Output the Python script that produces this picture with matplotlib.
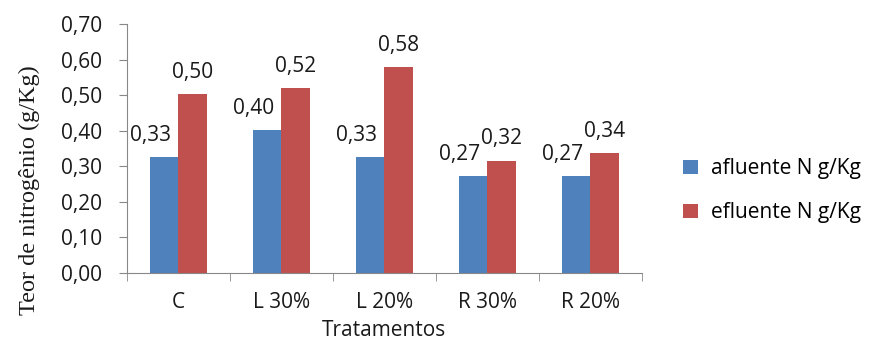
import numpy as np
import matplotlib.pyplot as plt

# data
categories = ['C', 'L 30%', 'L 20%', 'R 30%', 'R 20%']
afluente = [0.327, 0.401, 0.327, 0.273, 0.273]
efluente = [0.503, 0.519, 0.578, 0.316, 0.336]
series_names = ['afluente N g/Kg', 'efluente N g/Kg']
yticks = [0.0, 0.1, 0.2, 0.3, 0.4, 0.5, 0.6, 0.7]

blue = '#4F81BD'
red = '#C0504D'
axis_grey = '#888888'
txt = '#1a1a1a'
font = 'Open Sans'
fs = 15

fig = plt.figure(figsize=(8.8, 3.42), dpi=100)
ax = fig.add_axes([0.1443, 0.2018, 0.5852, 0.728])

x = np.arange(len(categories))
w = 0.28
b1 = ax.bar(x - w / 2, afluente, w, color=blue, label=series_names[0])
b2 = ax.bar(x + w / 2, efluente, w, color=red, label=series_names[1])

# value labels (comma decimals); blue ones nudged left like the original
for bars, dx in ((b1, -10), (b2, 0)):
    for rect in bars:
        v = rect.get_height()
        ax.annotate(f'{v:.2f}'.replace('.', ','),
                    (rect.get_x() + rect.get_width() / 2, v),
                    xytext=(dx, 8), textcoords='offset points',
                    ha='center', va='bottom', fontsize=fs,
                    family=font, color=txt)

ax.set_xlim(-0.5, len(categories) - 0.5)
ax.set_ylim(0, 0.7)
ax.set_yticks(yticks)
ax.set_yticklabels([f'{t:.2f}'.replace('.', ',') for t in yticks],
                   fontsize=fs, family=font, color=txt)
ax.set_xticks(x)
ax.set_xticklabels(categories, fontsize=fs, family=font, color=txt)
ax.set_xticks(np.arange(-0.5, len(categories)), minor=True)
ax.tick_params(axis='x', which='major', length=0, pad=14)
ax.tick_params(axis='x', which='minor', length=6, color=axis_grey)
ax.tick_params(axis='y', length=6, color=axis_grey, pad=12)

for s in ('top', 'right'):
    ax.spines[s].set_visible(False)
for s in ('left', 'bottom'):
    ax.spines[s].set_color(axis_grey)

ax.set_xlabel('Tratamentos', fontsize=15, family=font, color=txt, labelpad=5)
ax.set_ylabel('Teor de nitrogênio (g/Kg)', fontsize=17.5,
              family='Liberation Serif', color=txt)
ax.yaxis.set_label_coords(-0.169, 0.333)

ax.legend(loc='center left', bbox_to_anchor=(1.08, 0.33), frameon=False,
          prop={'family': font, 'size': fs}, handlelength=0.72,
          handleheight=0.65, labelspacing=1.1, handletextpad=0.62,
          borderpad=0, borderaxespad=0)

fig.savefig('out.png', dpi=100)
